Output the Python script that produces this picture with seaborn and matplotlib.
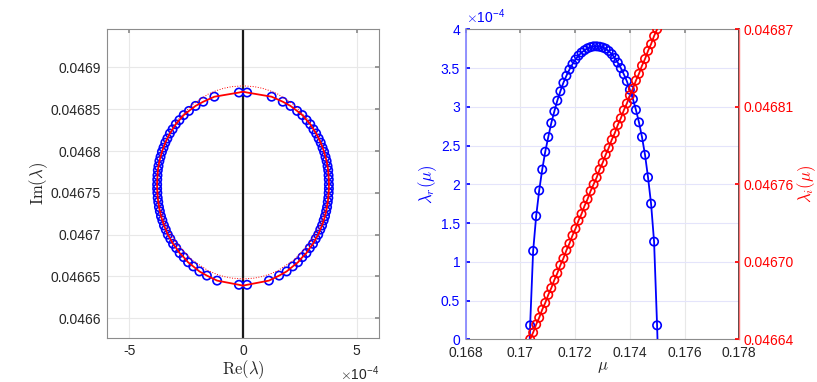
import matplotlib
matplotlib.use("Agg")
import matplotlib.pyplot as plt
import seaborn as sns
import numpy as np

# parameter values (markers)
mu = [0.170355, 0.170465, 0.170576, 0.170686, 0.170797, 0.170907, 0.171018,
      0.171128, 0.171239, 0.171349, 0.171460, 0.171570, 0.171681, 0.171791,
      0.171902, 0.172012, 0.172123, 0.172233, 0.172344, 0.172454, 0.172565,
      0.172675, 0.172786, 0.172896, 0.173007, 0.173117, 0.173228, 0.173338,
      0.173449, 0.173559, 0.173670, 0.173780, 0.173891, 0.174001, 0.174112,
      0.174222, 0.174333, 0.174443, 0.174554, 0.174664, 0.174775, 0.174885,
      0.174995]
# real part (x 1e-4)
lam_r = [0.18, 1.14, 1.59, 1.92, 2.19, 2.42, 2.61, 2.79, 2.94, 3.08, 3.20,
         3.31, 3.40, 3.48, 3.55, 3.61, 3.66, 3.70, 3.73, 3.755, 3.77, 3.78,
         3.78, 3.775, 3.765, 3.75, 3.72, 3.68, 3.63, 3.57, 3.50, 3.42, 3.33,
         3.22, 3.10, 2.96, 2.80, 2.61, 2.38, 2.09, 1.75, 1.26, 0.18]
# imaginary part
lam_i = [0.046640, 0.046645, 0.046651, 0.046656, 0.046662, 0.046667, 0.046673,
         0.046678, 0.046684, 0.046689, 0.046695, 0.046700, 0.046706, 0.046711,
         0.046717, 0.046722, 0.046728, 0.046733, 0.046739, 0.046744, 0.046750,
         0.046755, 0.046760, 0.046766, 0.046771, 0.046777, 0.046782, 0.046788,
         0.046793, 0.046799, 0.046804, 0.046810, 0.046815, 0.046821, 0.046826,
         0.046832, 0.046837, 0.046843, 0.046848, 0.046854, 0.046859, 0.046865,
         0.046870]
# where the branch meets the imaginary axis
mu_ends = [0.17034, 0.17501]
im_ends = [0.046639, 0.046871]

# approximate (dotted) curve
dot_im = [0.046647, 0.046648, 0.046650, 0.046653, 0.046657, 0.046670, 0.046690,
          0.046715, 0.046740, 0.046762, 0.046785, 0.046810, 0.046835, 0.046855,
          0.046868, 0.046872, 0.046875, 0.046877, 0.046878]
dot_re = [0, 0.50, 0.86, 1.20, 1.54, 2.26, 2.94, 3.45, 3.71, 3.78, 3.71, 3.45,
          2.94, 2.26, 1.54, 1.20, 0.86, 0.50, 0]

im_ticks = [0.0466, 0.04665, 0.0467, 0.04675, 0.0468, 0.04685, 0.0469]
im_tick_labels = ["0.0466", "0.04665", "0.0467", "0.04675", "0.0468", "0.04685", "0.0469"]
re_ticks = [-5, 0, 5]
mu_ticks = [0.168, 0.170, 0.172, 0.174, 0.176, 0.178]
mu_tick_labels = ["0.168", "0.17", "0.172", "0.174", "0.176", "0.178"]
lr_ticks = [0, 0.5, 1, 1.5, 2, 2.5, 3, 3.5, 4]
lr_tick_labels = ["0", "0.5", "1", "1.5", "2", "2.5", "3", "3.5", "4"]
li_ticks = [0.04664, 0.0466975, 0.046755, 0.0468125, 0.04687]
li_tick_labels = ["0.04664", "0.04670", "0.04676", "0.04681", "0.04687"]

sns.set_theme(style="white")
plt.rcParams["font.family"] = ["Liberation Sans", "DejaVu Sans"]
plt.rcParams["mathtext.fontset"] = "cm"

BLUE = "#0000ff"
RED = "#ff0000"
TXT = "#262626"
SPINE = "#8c8c8c"
MS = 36

fig = plt.figure(figsize=(8.17, 3.82), dpi=100)
ax = fig.add_axes([0.1306, 0.1144, 0.3337, 0.8097])
axr = fig.add_axes([0.5700, 0.1118, 0.3349, 0.8115])

# ---------- left panel: eigenvalues in the complex plane ----------
lr = np.array(lam_r)
li = np.array(lam_i)
curve_x = np.concatenate([[0], lr, [0], -lr[::-1], [0]])
curve_y = np.concatenate([[im_ends[0]], li, [im_ends[1]], li[::-1], [im_ends[0]]])
dr = np.array(dot_re)
di = np.array(dot_im)
dot_x = np.concatenate([dr, -dr[::-1]])
dot_y = np.concatenate([di, di[::-1]])

ax.axvline(0, color="#1a1a1a", lw=1.6, zorder=2)
for sgn in (1, -1):
    sns.scatterplot(x=sgn * lr, y=li, ax=ax, marker="o", s=MS,
                    facecolors="none", edgecolor=BLUE, linewidth=1.2, zorder=3)
sns.lineplot(x=curve_x, y=curve_y, ax=ax, sort=False, estimator=None,
             color=RED, lw=1.3, zorder=4)
ax.plot(dot_x, dot_y, ls=":", color=RED, lw=0.7, zorder=4)

ax.set_xlim(-6, 6)
ax.set_ylim(0.046576, 0.046946)
ax.set_xticks(re_ticks)
ax.set_xticklabels([str(t) for t in re_ticks])
ax.set_yticks(im_ticks)
ax.set_yticklabels(im_tick_labels)
ax.grid(True, color="#e8e8e8", lw=0.8)
ax.set_axisbelow(True)
ax.tick_params(direction="in", length=3, colors=SPINE, labelcolor=TXT,
               labelsize=10, top=True, right=True, pad=4)
for s in ax.spines.values():
    s.set_color(SPINE)
    s.set_linewidth(0.8)
ax.set_xlabel(r"$\mathrm{Re}(\lambda)$", fontsize=12, color=TXT, labelpad=0)
ax.set_ylabel(r"$\mathrm{Im}(\lambda)$", fontsize=12, color=TXT, labelpad=1)
ax.text(1.0, -0.085, r"$\times\mathregular{10^{-4}}$", transform=ax.transAxes,
        ha="right", va="top", fontsize=10, color=TXT)

# ---------- right panel: real and imaginary parts vs mu ----------
mu_line = [mu_ends[0]] + mu + [mu_ends[1]]
lr_line = [0] + lam_r + [0]
sns.lineplot(x=mu_line, y=lr_line, ax=axr, sort=False, estimator=None,
             color=BLUE, lw=1.3, zorder=3)
sns.scatterplot(x=mu, y=lam_r, ax=axr, marker="o", s=MS, facecolors="none",
                edgecolor=BLUE, linewidth=1.2, zorder=4)
axr.set_xlim(0.168, 0.178)
axr.set_ylim(0, 4)
axr.set_xticks(mu_ticks)
axr.set_xticklabels(mu_tick_labels)
axr.set_yticks(lr_ticks)
axr.set_yticklabels(lr_tick_labels)
axr.grid(True, axis="y", color="#e4e4fb", lw=0.8)
axr.grid(True, axis="x", color="#e8e8e8", lw=0.8)
axr.set_axisbelow(True)
axr.tick_params(axis="x", direction="in", length=3, colors=SPINE,
                labelcolor=TXT, labelsize=10, top=True, pad=5)
axr.tick_params(axis="y", direction="in", length=3, colors=BLUE,
                labelcolor=BLUE, labelsize=10, pad=4)
for s in ("top", "bottom"):
    axr.spines[s].set_color(SPINE)
    axr.spines[s].set_linewidth(0.8)
axr.spines["left"].set_color("#8080ff")
axr.spines["left"].set_linewidth(1.2)
axr.set_xlabel(r"$\mu$", fontsize=12, color=TXT, labelpad=0)
axr.set_ylabel(r"$\lambda_r(\mu)$", fontsize=12, color=BLUE, labelpad=1)
axr.text(0.0, 1.01, r"$\times\mathregular{10^{-4}}$", transform=axr.transAxes,
         ha="left", va="bottom", fontsize=10, color=BLUE)

axi = axr.twinx()
sns.lineplot(x=mu, y=lam_i, ax=axi, sort=False, estimator=None,
             color=RED, lw=1.3, zorder=3)
sns.scatterplot(x=mu, y=lam_i, ax=axi, marker="o", s=MS, facecolors="none",
                edgecolor=RED, linewidth=1.2, zorder=4)
axi.set_ylim(0.04664, 0.04687)
axi.set_yticks(li_ticks)
axi.set_yticklabels(li_tick_labels)
axi.tick_params(axis="y", direction="in", length=3, colors=RED,
                labelcolor=RED, labelsize=10, pad=3)
axi.grid(False)
axi.spines["right"].set_color("#ff7070")
axi.spines["right"].set_linewidth(1.0)
axi.spines["left"].set_visible(False)
axi.spines["top"].set_visible(False)
axi.spines["bottom"].set_visible(False)
axi.set_ylabel(r"$\lambda_i(\mu)$", fontsize=12, color=RED, labelpad=1)

fig.savefig("out.png", dpi=100)
